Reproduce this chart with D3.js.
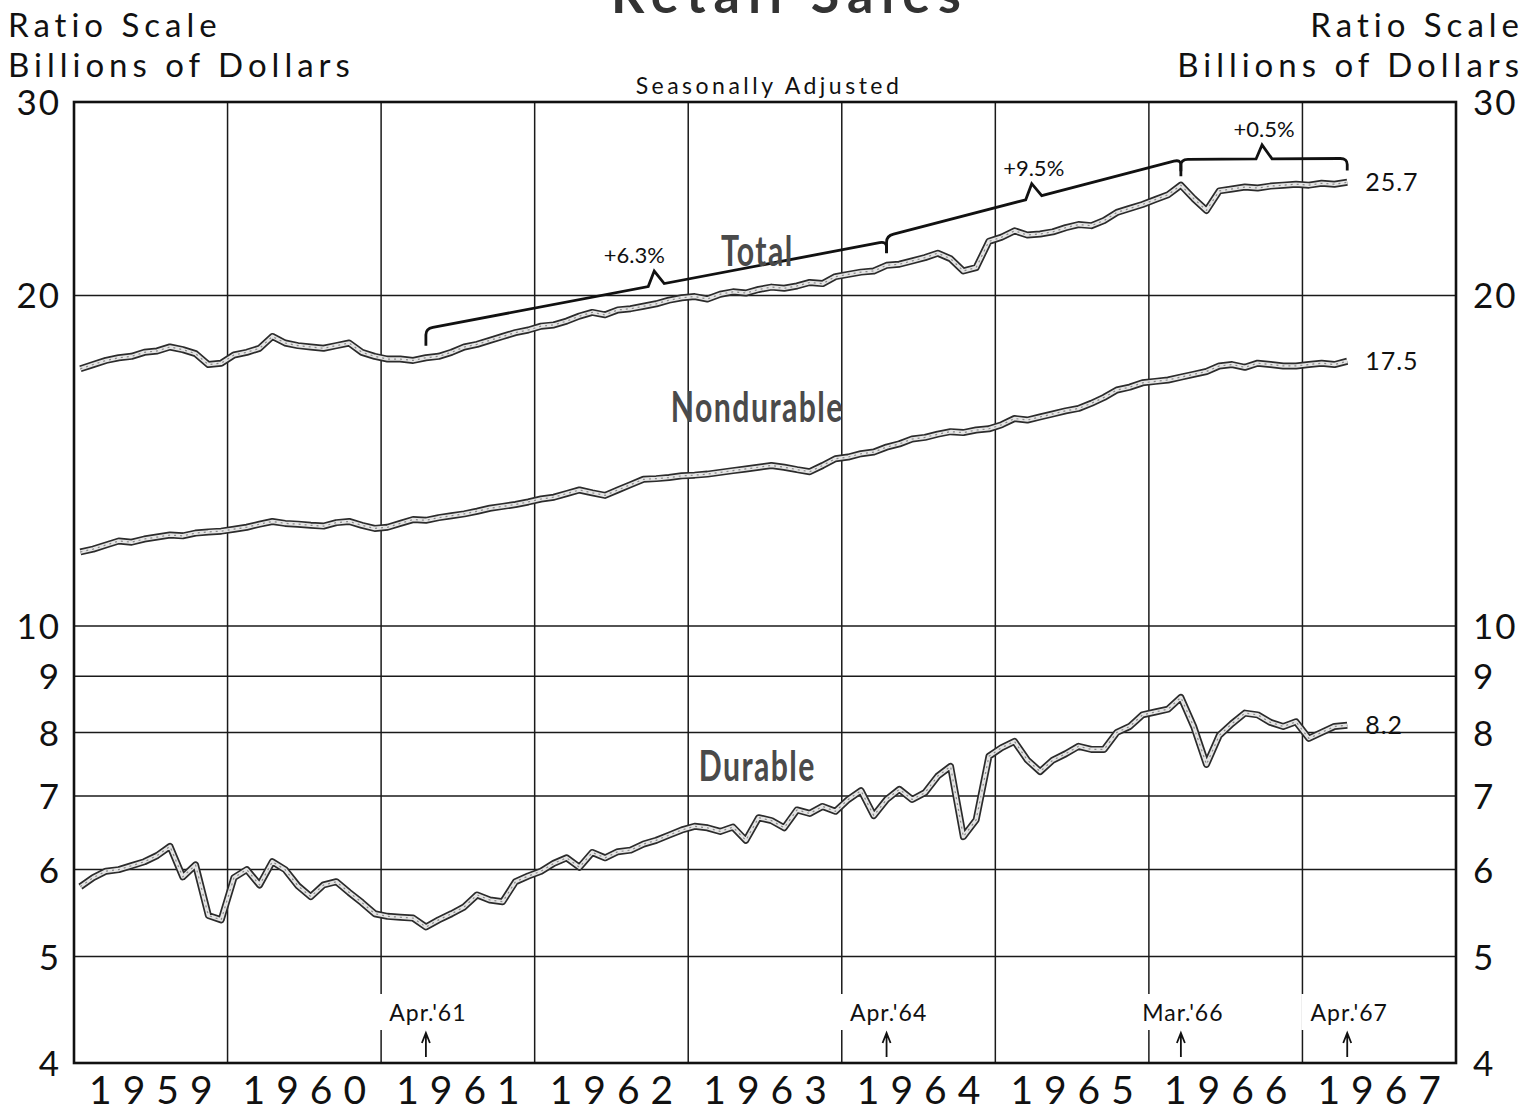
<!DOCTYPE html>
<html>
<head>
<meta charset="utf-8">
<script src="https://cdn.jsdelivr.net/npm/d3@7"></script>
<style>
  body { margin: 0; background: #fff; }
  text { font-family: Lato, "Open Sans", sans-serif; fill: #111; }
</style>
</head>
<body>
<svg id="chart"></svg>
<script>
// monthly retail sales, billions of dollars, Jan 1959 - Apr 1967
const totalSales = [
  17.15, 17.3, 17.45, 17.55, 17.6, 17.75, 17.8, 17.95, 17.85, 17.7, 17.3, 17.35,
  17.65, 17.75, 17.9, 18.35, 18.1, 18.0, 17.95, 17.9, 18.0, 18.1, 17.75, 17.6,
  17.5, 17.5, 17.45, 17.55, 17.6, 17.75, 17.95, 18.05, 18.2, 18.35, 18.5, 18.6,
  18.75, 18.8, 18.95, 19.15, 19.3, 19.2, 19.4, 19.45, 19.55, 19.65, 19.8, 19.9,
  19.95, 19.85, 20.05, 20.15, 20.1, 20.25, 20.35, 20.3, 20.4, 20.55, 20.5, 20.8,
  20.9, 21.0, 21.05, 21.3, 21.35, 21.5, 21.65, 21.85, 21.6, 21.05, 21.2, 22.4,
  22.6, 22.9, 22.7, 22.75, 22.85, 23.05, 23.2, 23.15, 23.4, 23.8, 24.0, 24.2,
  24.45, 24.7, 25.2, 24.5, 23.9, 24.9, 25.0, 25.1, 25.05, 25.15, 25.2, 25.25,
  25.2, 25.3, 25.25, 25.35
];
const nondurableSales = [
  11.68, 11.75, 11.85, 11.95, 11.92, 12.0, 12.05, 12.1, 12.08, 12.15, 12.18, 12.2,
  12.25, 12.3, 12.38, 12.45, 12.4, 12.38, 12.35, 12.33, 12.42, 12.45, 12.35, 12.27,
  12.3, 12.4, 12.5, 12.48, 12.55, 12.6, 12.65, 12.72, 12.8, 12.85, 12.9, 12.97,
  13.05, 13.1, 13.2, 13.3, 13.22, 13.15, 13.3, 13.45, 13.6, 13.62, 13.65, 13.7,
  13.72, 13.75, 13.8, 13.85, 13.9, 13.95, 14.0, 13.95, 13.88, 13.82, 14.0, 14.2,
  14.25, 14.35, 14.4, 14.55, 14.65, 14.8, 14.85, 14.95, 15.03, 15.0, 15.08, 15.12,
  15.25, 15.45, 15.4, 15.5, 15.6, 15.7, 15.78, 15.95, 16.15, 16.4, 16.5, 16.65,
  16.7, 16.75, 16.85, 16.95, 17.05, 17.25, 17.3, 17.2, 17.35, 17.3, 17.25, 17.25,
  17.3, 17.35, 17.3, 17.42
];
const durableSales = [
  5.79, 5.9, 5.98, 6.0, 6.05, 6.1, 6.18, 6.3, 5.91, 6.06, 5.45, 5.4,
  5.9, 6.0, 5.81, 6.1, 6.0, 5.8, 5.67, 5.81, 5.85, 5.72, 5.6, 5.47,
  5.44, 5.43, 5.42, 5.32, 5.4, 5.47, 5.55, 5.69, 5.63, 5.61, 5.85, 5.92,
  5.98, 6.08, 6.15, 6.03, 6.22, 6.15, 6.23, 6.25, 6.33, 6.38, 6.45, 6.52,
  6.57, 6.55, 6.5, 6.56, 6.38, 6.69, 6.65, 6.55, 6.8, 6.75, 6.85, 6.78,
  6.95, 7.08, 6.72, 6.95, 7.1, 6.95, 7.05, 7.3, 7.45, 6.43, 6.66, 7.61,
  7.75, 7.85, 7.55, 7.37, 7.55, 7.65, 7.77, 7.72, 7.72, 8.0, 8.1, 8.3,
  8.35, 8.4, 8.61, 8.1, 7.48, 7.95, 8.15, 8.33, 8.3, 8.17, 8.1, 8.18,
  7.9, 8.0, 8.1, 8.12
];

const startYear = 1959;
const years = [1959, 1960, 1961, 1962, 1963, 1964, 1965, 1966, 1967];
const yTickValues = [4, 5, 6, 7, 8, 9, 10, 20, 30];
const endLabels = ["25.7", "17.5", "8.2"];

// growth brackets over the total series: [from, to] as decimal year, values at both ends
const braceFrom = [1961 + 3.5 / 12, 1964 + 3.5 / 12, 1966 + 2.5 / 12];
const braceTo = [1964 + 3.5 / 12, 1966 + 2.5 / 12, 1967 + 3.5 / 12];
const braceStartVal = [18.65, 22.65, 26.6];
const braceEndVal = [22.4, 26.6, 26.65];
const braceLabels = ["+6.3%", "+9.5%", "+0.5%"];

const eventLabels = ["Apr.'61", "Apr.'64", "Mar.'66", "Apr.'67"];
const eventDates = [1961 + 3.5 / 12, 1964 + 3.5 / 12, 1966 + 2.5 / 12, 1967 + 3.5 / 12];

const W = 1525, H = 1118;
const margin = {left: 74, right: 1456, top: 102, bottom: 1063};

const svg = d3.select("#chart").attr("width", W).attr("height", H);
svg.append("rect").attr("width", W).attr("height", H).attr("fill", "#fff");

const x = d3.scaleLinear().domain([1959, 1968]).range([margin.left, margin.right]);
const y = d3.scaleLog().domain([4, 30]).range([margin.bottom, margin.top]);
const monthDate = i => startYear + (i + 0.5) / 12;

// title, mostly cut off at the top like the scan
svg.append("text")
  .attr("x", 790).attr("y", 13)
  .attr("text-anchor", "middle")
  .attr("font-size", 52).attr("font-weight", 700)
  .attr("letter-spacing", 8)
  .style("fill", "#333")
  .text("Retail Sales");

// axis titles
const titleL = svg.append("g").attr("font-size", 33).attr("letter-spacing", 5);
titleL.append("text").attr("x", 8).attr("y", 37).text("Ratio Scale");
titleL.append("text").attr("x", 8).attr("y", 77).text("Billions of Dollars");
const titleR = svg.append("g").attr("font-size", 33).attr("letter-spacing", 5).attr("text-anchor", "end");
titleR.append("text").attr("x", 1524).attr("y", 37).text("Ratio Scale");
titleR.append("text").attr("x", 1524).attr("y", 77).text("Billions of Dollars");

svg.append("text")
  .attr("x", 769).attr("y", 94)
  .attr("text-anchor", "middle")
  .attr("font-size", 23)
  .attr("letter-spacing", 3.5)
  .text("Seasonally Adjusted");

// grid
const grid = svg.append("g").attr("stroke", "#1a1a1a").attr("stroke-width", 1.5);
grid.selectAll("line.h")
  .data(yTickValues.filter(v => v > 4 && v < 30))
  .join("line")
  .attr("class", "h")
  .attr("x1", margin.left).attr("x2", margin.right)
  .attr("y1", d => y(d)).attr("y2", d => y(d));
grid.selectAll("line.v")
  .data(years.slice(1))
  .join("line")
  .attr("class", "v")
  .attr("y1", margin.top).attr("y2", margin.bottom)
  .attr("x1", d => x(d)).attr("x2", d => x(d));

svg.append("rect")
  .attr("x", margin.left).attr("y", margin.top)
  .attr("width", margin.right - margin.left).attr("height", margin.bottom - margin.top)
  .attr("fill", "none").attr("stroke", "#111").attr("stroke-width", 2.6);

// y axes
const yLeft = svg.append("g")
  .attr("transform", `translate(${margin.left - 10},0)`)
  .call(d3.axisLeft(y).tickValues(yTickValues).tickSize(0).tickFormat(d3.format("d")));
const yRight = svg.append("g")
  .attr("transform", `translate(${margin.right + 14},0)`)
  .call(d3.axisRight(y).tickValues(yTickValues).tickSize(0).tickFormat(d3.format("d")));
[yLeft, yRight].forEach(g => {
  g.select(".domain").remove();
  g.selectAll("text")
    .attr("font-family", "Lato, sans-serif")
    .attr("font-size", 35)
    .attr("dy", "0.36em")
    .attr("letter-spacing", 2)
    .style("fill", "#111");
});

// x axis year labels centred in each year
const xAxis = svg.append("g")
  .attr("transform", `translate(0,${margin.bottom + 2})`)
  .call(d3.axisBottom(x).tickValues(years.map(d => d + 0.5)).tickSize(0)
    .tickFormat(d => String(Math.floor(d))));
xAxis.select(".domain").remove();
xAxis.selectAll("text")
  .attr("font-family", "Lato, sans-serif")
  .attr("font-size", 39)
  .attr("letter-spacing", 11)
  .attr("dx", 5)
  .attr("dy", "0.92em")
  .style("fill", "#111");

// event markers
const ev = svg.append("g").selectAll("g").data(eventLabels).join("g");
ev.append("rect")
  .attr("x", (d, i) => x(eventDates[i]) - 46)
  .attr("y", 994)
  .attr("width", 92).attr("height", 36)
  .attr("fill", "#fff");
ev.append("text")
  .attr("x", (d, i) => x(eventDates[i]) + 2)
  .attr("y", 1021)
  .attr("text-anchor", "middle")
  .attr("font-size", 23)
  .attr("letter-spacing", 1)
  .text(d => d);
ev.append("path")
  .attr("d", (d, i) => {
    const cx = x(eventDates[i]);
    const b = margin.bottom;
    return `M${cx},${b - 6}L${cx},${b - 28}M${cx - 4},${b - 20}L${cx},${b - 30}L${cx + 4},${b - 20}`;
  })
  .attr("fill", "none").attr("stroke", "#111").attr("stroke-width", 1.8);

// series drawn as hollow ribbons
const line = d3.line().x((d, i) => x(monthDate(i))).y(d => y(d));
const series = [totalSales, nondurableSales, durableSales];
const sg = svg.append("g").attr("fill", "none").attr("stroke-linejoin", "round");
series.forEach(s => {
  sg.append("path").attr("d", line(s)).attr("stroke", "#2b2b2b").attr("stroke-width", 7);
  sg.append("path").attr("d", line(s)).attr("stroke", "#e4e4e4").attr("stroke-width", 3.6);
  sg.append("path").attr("d", line(s)).attr("stroke", "#8a8a8a").attr("stroke-width", 1.2)
    .attr("stroke-dasharray", "2 4");
});

// end-value labels
svg.append("g").selectAll("text").data(endLabels).join("text")
  .attr("x", x(monthDate(series[0].length - 1)) + 18)
  .attr("y", (d, i) => y(series[i][series[i].length - 1]))
  .attr("dy", "0.35em")
  .attr("font-size", 25)
  .attr("letter-spacing", 1)
  .text(d => d);

// growth braces
const bg = svg.append("g");
braceLabels.forEach((lab, i) => {
  const x0 = x(braceFrom[i]), x1 = x(braceTo[i]);
  const y0 = y(braceStartVal[i]), y1 = y(braceEndVal[i]);
  const xm = (x0 + x1) / 2, ym = (y0 + y1) / 2;
  const slope = (y1 - y0) / (x1 - x0);
  const p = d3.path();
  p.moveTo(x0, y0 + 17);
  p.lineTo(x0, y0 + 6);
  p.quadraticCurveTo(x0, y0, x0 + 7, y0 + slope * 7);
  p.lineTo(xm - 8, ym - slope * 8);
  p.lineTo(xm - 2, ym - 14);
  p.lineTo(xm + 8, ym + slope * 8);
  p.lineTo(x1 - 7, y1 - slope * 7);
  p.quadraticCurveTo(x1, y1, x1, y1 + 6);
  p.lineTo(x1, y1 + 12);
  bg.append("path").attr("d", p.toString())
    .attr("fill", "none").attr("stroke", "#111").attr("stroke-width", 2.8);
  bg.append("text")
    .attr("x", xm - (i === 0 ? 22 : 0))
    .attr("y", ym - 22)
    .attr("text-anchor", "middle")
    .attr("font-size", 22)
    .text(lab);
});

// series names, tall and condensed
const nameAt = (txt, t, v) => svg.append("text")
  .attr("transform", `translate(${x(t)},${y(v)}) scale(0.72,1)`)
  .attr("text-anchor", "middle")
  .attr("font-family", "'DejaVu Sans Condensed', 'Liberation Sans Narrow', sans-serif")
  .attr("font-weight", 700)
  .attr("font-size", 42)
  .attr("letter-spacing", 2)
  .style("fill", "#4a4a4a")
  .text(txt);
nameAt("Total", 1963.45, 21.25);
nameAt("Nondurable", 1963.45, 15.35);
nameAt("Durable", 1963.45, 7.22);
</script>
</body>
</html>
